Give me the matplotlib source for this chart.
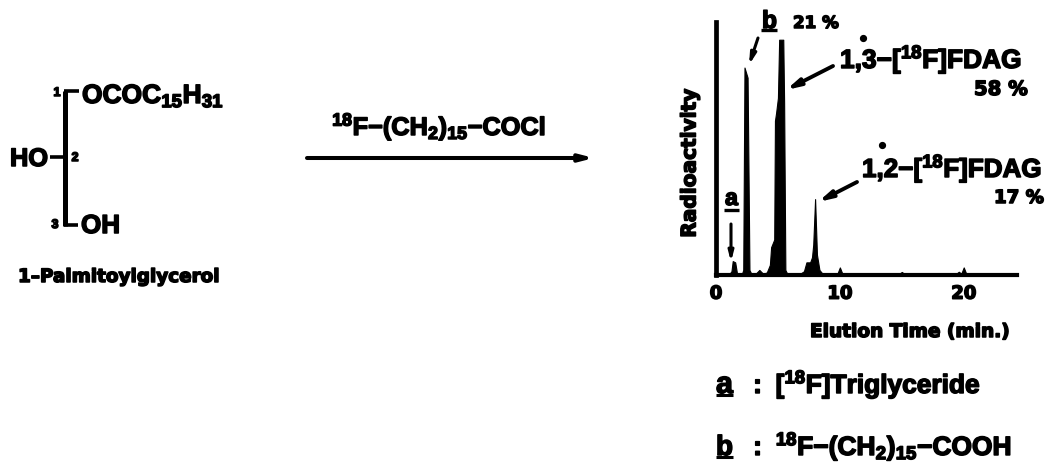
import matplotlib
matplotlib.use("Agg")
import matplotlib.pyplot as plt
import matplotlib.patheffects as pe

plt.rcParams['font.family'] = ['Liberation Sans', 'DejaVu Sans']
plt.rcParams['mathtext.fontset'] = 'custom'
plt.rcParams['mathtext.rm'] = 'Liberation Sans:bold'
plt.rcParams['mathtext.bf'] = 'Liberation Sans:bold'
plt.rcParams['mathtext.default'] = 'bf'

# chromatogram
elution_min = [0.3, 1.1, 1.25, 1.35, 1.55, 1.7, 2.1, 2.2, 2.3, 2.55, 2.7, 2.85, 3.2, 3.5, 3.8, 4.1,
               4.35, 4.45, 4.7, 4.76, 4.85, 5.0, 5.1, 5.25, 5.43, 5.5, 5.6, 5.75, 6.8, 7.1, 7.3, 7.6,
               7.75, 7.85, 8.0, 8.15, 8.35, 8.6, 9.8, 10.0, 10.2, 14.8, 15.0, 15.2, 19.4, 19.6, 19.8, 20.0, 20.2, 24.3]
radioactivity = [0.5, 0.5, 1.5, 5.5, 5.0, 0.5, 0.5, 2, 82, 78, 2, 0.5, 0.5, 2, 0.5, 1,
                 4, 11, 14, 61, 64, 70, 93, 93, 93, 68, 2, 0.5, 0.5, 1.5, 5, 5,
                 7, 12, 30, 8, 2, 0.5, 0.5, 3, 0.5, 0.5, 1.2, 0.5, 0.5, 1.3, 0.5, 3, 0.5, 0.5]
x_ticks = [0, 10, 20]

stroke = [pe.withStroke(linewidth=1.1, foreground='black')]
WIDE = ['DejaVu Sans']
fig = plt.figure(figsize=(10.46, 4.62), dpi=100, facecolor='white')
renderer = fig.canvas.get_renderer()

# full-figure pixel canvas for the reaction scheme
c = fig.add_axes([0, 0, 1, 1])
c.set_xlim(0, 1046)
c.set_ylim(462, 0)
c.axis('off')


def t(x0, x1, baseline, s, size=14, **kw):
    """Text whose ink runs from x0 to x1 on the given baseline: the size is fitted to the width."""
    txt = c.text(x0, baseline, s, fontsize=size, fontweight='bold', color='black',
                 ha='left', va='baseline', path_effects=stroke, **kw)
    width = txt.get_window_extent(renderer).width
    txt.set_fontsize(size * (x1 - x0) / width)
    return txt


def seg(x0, y0, x1, y1, lw=2.4):
    c.plot([x0, x1], [y0, y1], color='black', lw=lw, solid_capstyle='butt')


def arrow(x0, y0, x1, y1, lw=2.2, ms=11):
    c.annotate('', xy=(x1, y1), xytext=(x0, y0),
               arrowprops=dict(arrowstyle='-|>,head_length=0.7,head_width=0.18', color='black', lw=lw,
                               mutation_scale=ms, shrinkA=0, shrinkB=0))


# substrate
seg(65, 91, 65, 226, 3.6)
seg(64, 91, 79, 91, 2.6)
seg(64, 225, 78, 225, 2.6)
seg(50, 157, 65, 157, 2.6)
c.text(57, 93, '1', fontsize=9, fontweight='bold', ha='center', va='center', path_effects=stroke)
c.text(75, 158, '2', fontsize=9, fontweight='bold', ha='center', va='center', path_effects=stroke)
c.text(55, 225, '3', fontsize=9, fontweight='bold', ha='center', va='center', path_effects=stroke)
t(82, 225, 103, r'$\mathbf{OCOC_{15}H_{31}}$')
t(10, 48, 166, 'HO')
t(81, 120, 233, 'OH')
t(18, 220, 282, '1\u2013Palmitoylglycerol', family=WIDE)

# reaction arrow
t(332, 547, 135, r'$\mathbf{^{18}F{-}(CH_2)_{15}{-}COCl}$')
arrow(307, 158, 594, 158, lw=2.9, ms=11)

# chromatogram axes, scaled from the picture
x0_px, x1_px, top_px, base_px = 716, 1017, 22, 275
ax = fig.add_axes([x0_px / 1046, 1 - base_px / 462, (x1_px - x0_px) / 1046, (base_px - top_px) / 462])
ax.patch.set_alpha(0)
ax.fill_between(elution_min, 0, radioactivity, color='black', lw=0.8)
ax.set_xlim(0, 24.3)
ax.set_ylim(0, 100)
ax.set_xticks(x_ticks)
ax.set_yticks([])
ax.tick_params(axis='x', length=0, pad=7, labelsize=13)
for lbl in ax.get_xticklabels():
    lbl.set_fontweight('bold')
    lbl.set_family(WIDE)
    lbl.set_path_effects(stroke)
for s in ('top', 'right'):
    ax.spines[s].set_visible(False)
ax.spines['left'].set_linewidth(3.4)
ax.spines['bottom'].set_linewidth(3.0)
c.text(690, 163, 'Radioactivity', fontsize=14.5, fontweight='bold', family=WIDE, rotation=90,
       ha='center', va='center', path_effects=stroke)
t(810, 1010, 337, 'Elution Time (min.)', family=WIDE)

# peak labels
t(725, 738, 205, 'a')
seg(724, 210, 739, 210, 2.4)
arrow(731, 224, 731, 262, lw=2.2, ms=8)
t(762, 777, 28, 'b')
seg(761, 30, 777, 30, 2.4)
arrow(758, 38, 749, 65, lw=2.2, ms=9)
t(793, 839, 28, '21 %', family=WIDE)
t(840, 1023, 68, r'$\mathbf{1{,}3{-}[^{18}F]FDAG}$')
arrow(833, 66, 786, 90, lw=2.8, ms=11)
t(974, 1028, 95, '58 %', family=WIDE)
t(862, 1043, 177, r'$\mathbf{1{,}2{-}[^{18}F]FDAG}$')
arrow(857, 182, 818, 202, lw=2.8, ms=11)
t(994, 1044, 203, '17 %', family=WIDE)
c.plot([863, 882], [38, 145], ls='none', marker='o', ms=4.2, color='black')

# key
t(716, 733, 393, 'a')
seg(716, 395, 733, 395, 2.2)
t(748, 982, 393, r'$\mathbf{:\ [^{18}F]Triglyceride}$')
t(716, 733, 455, 'b')
seg(716, 457, 733, 457, 2.2)
t(748, 1013, 455, r'$\mathbf{:\ ^{18}F{-}(CH_2)_{15}{-}COOH}$')

fig.savefig('out.png', dpi=100)
